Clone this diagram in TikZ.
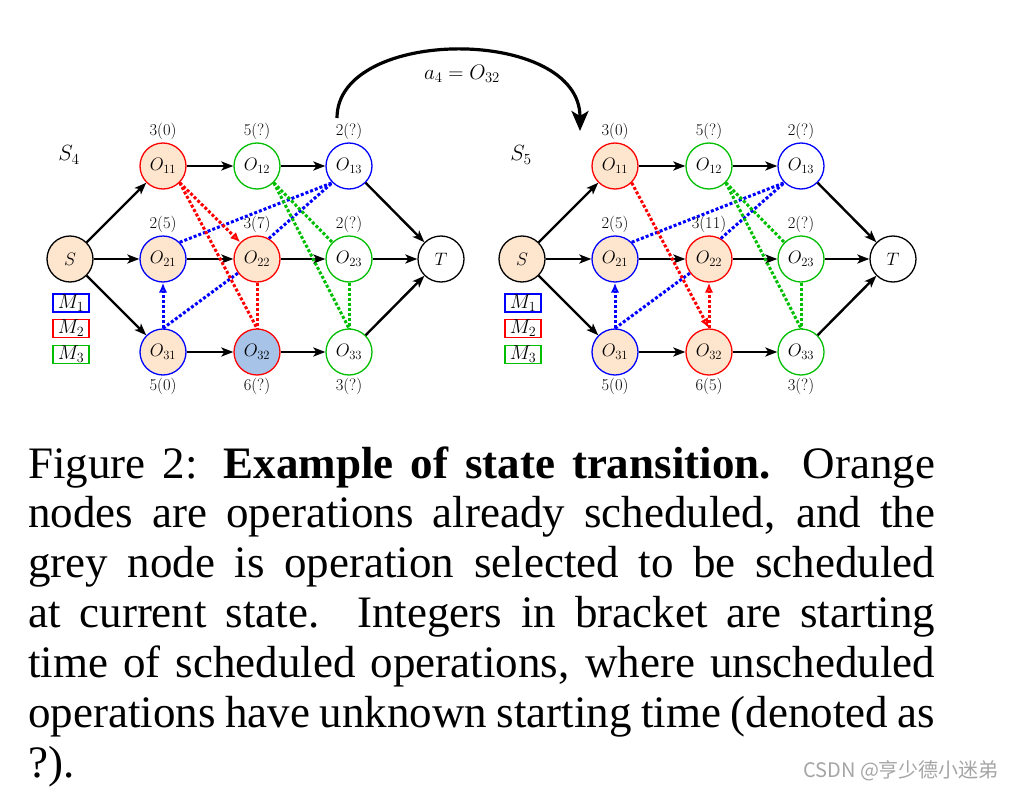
\RequirePackage{fix-cm}
\documentclass[tikz,border=0pt]{standalone}
\usepackage{fontspec}
\usetikzlibrary{arrows.meta}
\newfontfamily\capfont{Liberation Serif}
\newfontfamily\cjkfont{Noto Sans CJK SC}
\definecolor{peach}{RGB}{253,229,206}
\definecolor{selblue}{RGB}{167,195,231}
\definecolor{mblue}{RGB}{0,0,255}
\definecolor{mred}{RGB}{255,0,0}
\definecolor{mgreen}{RGB}{0,190,0}
\definecolor{wmgray}{RGB}{165,165,165}
\newcommand\capline[1]{\hbox to 907pt{#1}}
\tikzset{
  op/.style={circle, draw, line width=1.3pt, minimum size=46pt, inner sep=0pt, fill=white,
    font=\fontsize{18}{20}\selectfont},
  done/.style={fill=peach},
  sel/.style={fill=selblue},
  lab/.style={inner sep=0pt, font=\fontsize{16.5}{18}\selectfont},
  flow/.style={line width=2.4pt, -{Stealth[length=12pt,width=9pt,inset=3pt]}},
  mdot/.style={line width=3pt, dash pattern=on 3pt off 2pt},
  mtip/.style={-{Latex[open,length=10pt,width=8.5pt]}},
  leg/.style={draw, line width=1.3pt, minimum width=36pt, minimum height=18pt, inner sep=0pt,
    font=\fontsize{20}{22}\selectfont},
  capt/.style={inner sep=0pt, anchor=base west, font=\capfont\fontsize{45}{50}\selectfont},
}
\begin{document}
\begin{tikzpicture}[x=1pt,y=-1pt]
\useasboundingbox (0,0) rectangle (1010,787);

% ---------- left graph S4 ----------
\node[inner sep=0pt, font=\fontsize{22}{24}\selectfont] (s4) at (69,155) {$S_4$};
\node[op, done] (aS) at (70,259) {$S$};
\node[op, done, draw=mred]  (a11) at (163,166) {$O_{11}$};
\node[op, draw=mgreen]      (a12) at (257,166) {$O_{12}$};
\node[op, draw=mblue]       (a13) at (349,166) {$O_{13}$};
\node[op, done, draw=mblue] (a21) at (163,259) {$O_{21}$};
\node[op, done, draw=mred]  (a22) at (257,259) {$O_{22}$};
\node[op, draw=mgreen]      (a23) at (349,259) {$O_{23}$};
\node[op, done, draw=mblue] (a31) at (163,352) {$O_{31}$};
\node[op, sel, draw=mred]   (a32) at (257,352) {$O_{32}$};
\node[op, draw=mgreen]      (a33) at (349,352) {$O_{33}$};
\node[op] (aT) at (441,259) {$T$};

\node[lab] (al11) at (163,131) {3(0)};
\node[lab] (al12) at (257,131) {5(?)};
\node[lab] (al13) at (349,131) {2(?)};
\node[lab] (al21) at (163,224) {2(5)};
\node[lab] (al22) at (257,224) {3(7)};
\node[lab] (al23) at (349,224) {2(?)};
\node[lab] (al31) at (163,386) {5(0)};
\node[lab] (al32) at (257,386) {6(?)};
\node[lab] (al33) at (349,386) {3(?)};

\node[leg, draw=mblue]  (am1) at (71,303)   {$M_1$};
\node[leg, draw=mred]   (am2) at (71,328.5) {$M_2$};
\node[leg, draw=mgreen] (am3) at (71,354.5) {$M_3$};

\draw[flow] (aS) -- (a11);
\draw[flow] (aS) -- (a21);
\draw[flow] (aS) -- (a31);
\draw[flow] (a11) -- (a12);
\draw[flow] (a12) -- (a13);
\draw[flow] (a21) -- (a22);
\draw[flow] (a22) -- (a23);
\draw[flow] (a31) -- (a32);
\draw[flow] (a32) -- (a33);
\draw[flow] (a13) -- (aT);
\draw[flow] (a23) -- (aT);
\draw[flow] (a33) -- (aT);

\draw[mdot, mblue] (a21.north east) -- (a13.south west);
\draw[mdot, mblue] (a22.60) -- (a13.south west);
\draw[mdot, mblue] (a31.north) -- (a22);
\draw[mdot, mblue, mtip] (a31.north) -- (a21.south);
\draw[mdot, mred, mtip] (a11.south east) -- (a22.north west);
\draw[mdot, mred] (a11.south east) -- (a32.north);
\draw[mdot, mred] (a22.south) -- (a32.north);
\draw[mdot, mgreen] (a12.south east) -- (a23.north west);
\draw[mdot, mgreen] (a12.south east) -- (a33.north);
\draw[mdot, mgreen] (a23.south) -- (a33.north);

% ---------- right graph S5 ----------
\node[inner sep=0pt, font=\fontsize{22}{24}\selectfont] (s5) at (521,155) {$S_5$};
\node[op, done] (bS) at (522,259) {$S$};
\node[op, done, draw=mred]  (b11) at (615,166) {$O_{11}$};
\node[op, draw=mgreen]      (b12) at (709,166) {$O_{12}$};
\node[op, draw=mblue]       (b13) at (801,166) {$O_{13}$};
\node[op, done, draw=mblue] (b21) at (615,259) {$O_{21}$};
\node[op, done, draw=mred]  (b22) at (709,259) {$O_{22}$};
\node[op, draw=mgreen]      (b23) at (801,259) {$O_{23}$};
\node[op, done, draw=mblue] (b31) at (615,352) {$O_{31}$};
\node[op, done, draw=mred]  (b32) at (709,352) {$O_{32}$};
\node[op, draw=mgreen]      (b33) at (801,352) {$O_{33}$};
\node[op] (bT) at (893,259) {$T$};

\node[lab] (bl11) at (615,131) {3(0)};
\node[lab] (bl12) at (709,131) {5(?)};
\node[lab] (bl13) at (801,131) {2(?)};
\node[lab] (bl21) at (615,224) {2(5)};
\node[lab] (bl22) at (709,224) {3(11)};
\node[lab] (bl23) at (801,224) {2(?)};
\node[lab] (bl31) at (615,386) {5(0)};
\node[lab] (bl32) at (709,386) {6(5)};
\node[lab] (bl33) at (801,386) {3(?)};

\node[leg, draw=mblue]  (bm1) at (523,303)   {$M_1$};
\node[leg, draw=mred]   (bm2) at (523,328.5) {$M_2$};
\node[leg, draw=mgreen] (bm3) at (523,354.5) {$M_3$};

\draw[flow] (bS) -- (b11);
\draw[flow] (bS) -- (b21);
\draw[flow] (bS) -- (b31);
\draw[flow] (b11) -- (b12);
\draw[flow] (b12) -- (b13);
\draw[flow] (b21) -- (b22);
\draw[flow] (b22) -- (b23);
\draw[flow] (b31) -- (b32);
\draw[flow] (b32) -- (b33);
\draw[flow] (b13) -- (bT);
\draw[flow] (b23) -- (bT);
\draw[flow] (b33) -- (bT);

\draw[mdot, mblue] (b21.north east) -- (b13.south west);
\draw[mdot, mblue] (b22.60) -- (b13.south west);
\draw[mdot, mblue] (b31.north) -- (b22);
\draw[mdot, mblue, mtip] (b31.north) -- (b21.south);
\draw[mdot, mred, mtip] (b11.south east) -- (b32.north);
\draw[mdot, mred, mtip] (b32.north) -- (b22.south);
\draw[mdot, mgreen] (b12.south east) -- (b23.north west);
\draw[mdot, mgreen] (b12.south east) -- (b33.north);
\draw[mdot, mgreen] (b23.south) -- (b33.north);

% ---------- transition arrow ----------
\coordinate (cs) at (337,118);
\coordinate (ce) at (580,131);
\draw[line width=3.2pt, -{Stealth[length=20pt,width=17pt,inset=5pt]}]
  (cs) .. controls (337,26) and (580,26) .. (ce);
\node[inner sep=0pt, font=\fontsize{21}{24}\selectfont] (act) at (462,74) {$a_4 = O_{32}$};

% ---------- caption ----------
\node[capt] (cap1) at (28,478) {\capline{Figure 2: \textbf{Example of state transition.} Orange}};
\node[capt] (cap2) at (28,527.5) {\capline{nodes are operations already scheduled, and the}};
\node[capt] (cap3) at (28,577) {\capline{grey node is operation selected to be scheduled}};
\node[capt] (cap4) at (28,627) {\capline{at current state. Integers in bracket are starting}};
\node[capt] (cap5) at (28,677) {\capline{time of scheduled operations, where unscheduled}};
\node[capt] (cap6) at (28,727) {\capline{operations have unknown starting time (denoted as}};
\node[capt] (cap7) at (28,777) {?).};

\node[inner sep=0pt, anchor=base west, text=wmgray, font=\cjkfont\fontsize{20}{22}\selectfont]
  (wm) at (803,777) {CSDN @亨少德小迷弟};
\end{tikzpicture}
\end{document}
